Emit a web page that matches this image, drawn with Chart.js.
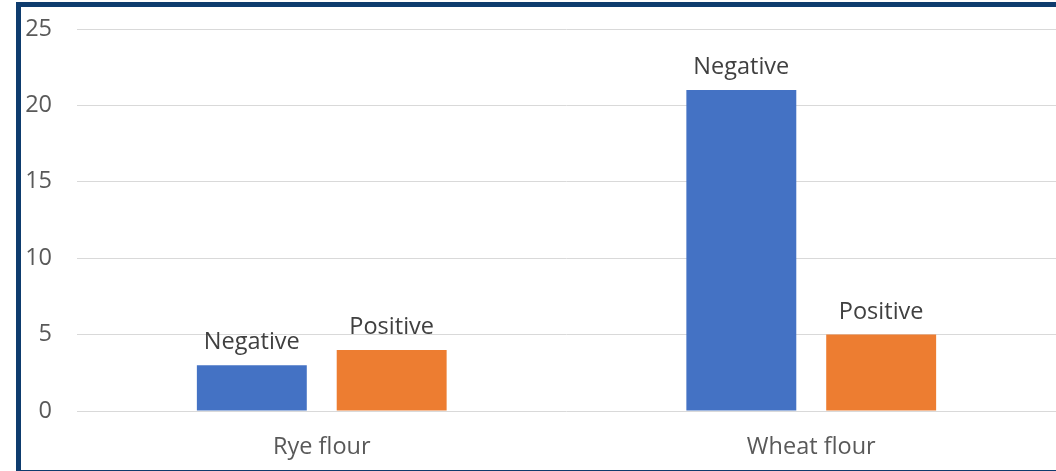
<!DOCTYPE html>
<html>
<head>
<meta charset="utf-8">
<script src="https://cdn.jsdelivr.net/npm/chart.js@4/dist/chart.umd.min.js"></script>
<style>
  html, body { margin: 0; padding: 0; background: #ffffff; }
  #wrap { position: relative; width: 1056px; height: 471px; overflow: hidden; }
  #frame { position: absolute; left: 16px; top: 2px; width: 1100px; height: 463px; border: 5px solid #0E3C6E; box-sizing: content-box; pointer-events: none; }
  canvas { position: absolute; left: 0; top: 0; }
</style>
</head>
<body>
<div id="wrap">
  <canvas id="c" width="1056" height="471"></canvas>
  <div id="frame"></div>
</div>
<script>
const categories = ["Rye flour", "Wheat flour"];
const seriesNames = ["Negative", "Positive"];
const negativeValues = [3, 21];
const positiveValues = [4, 5];
const yTicks = [0, 5, 10, 15, 20, 25];

const FONT = "'Open Sans', 'Noto Sans', sans-serif";
const FS = 23.5;

const labelPlugin = {
  id: 'barLabels',
  afterDatasetsDraw(chart) {
    const ctx = chart.ctx;
    ctx.save();
    ctx.font = FS + "px " + FONT;
    ctx.fillStyle = '#404040';
    ctx.textAlign = 'center';
    ctx.textBaseline = 'alphabetic';
    chart.data.datasets.forEach((ds, i) => {
      const meta = chart.getDatasetMeta(i);
      meta.data.forEach(bar => {
        ctx.fillText(ds.label, bar.x, bar.y - 16);
      });
    });
    ctx.restore();
  }
};

new Chart(document.getElementById('c'), {
  type: 'bar',
  data: {
    labels: categories,
    datasets: [
      { label: seriesNames[0], data: negativeValues, backgroundColor: '#4472C4', borderWidth: 0 },
      { label: seriesNames[1], data: positiveValues, backgroundColor: '#ED7D31', borderWidth: 0 }
    ]
  },
  options: {
    responsive: false,
    animation: false,
    devicePixelRatio: 1,
    layout: { padding: { top: 29, left: 0, right: 0, bottom: 0 } },
    plugins: { legend: { display: false }, tooltip: { enabled: false } },
    datasets: { bar: { categoryPercentage: 0.5714, barPercentage: 0.786 } },
    scales: {
      x: {
        grid: { display: false },
        border: { display: false },
        ticks: { color: '#595959', font: { family: FONT, size: FS }, padding: 14 },
        afterFit(s) { s.height = 60; s.paddingLeft = 0; s.paddingRight = 0; s.paddingTop = 0; s.paddingBottom = 0; }
      },
      y: {
        min: 0, max: 25,
        afterBuildTicks(s) { s.ticks = yTicks.map(v => ({ value: v })); },
        grid: { color: '#D9D9D9', lineWidth: 1, drawTicks: false },
        border: { display: false },
        ticks: { color: '#595959', font: { family: FONT, size: FS }, padding: 25 },
        afterFit(s) { s.width = 77; s.paddingTop = 0; s.paddingBottom = 0; s.paddingLeft = 0; s.paddingRight = 0; }
      }
    }
  },
  plugins: [labelPlugin]
});
</script>
</body>
</html>
